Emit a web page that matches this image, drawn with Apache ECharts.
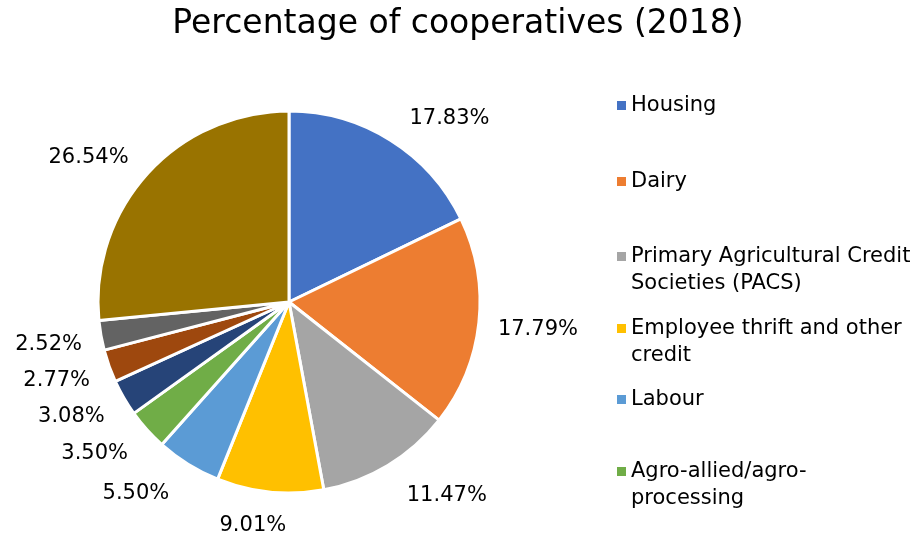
<!DOCTYPE html>
<html>
<head>
<meta charset="utf-8">
<script src="https://cdn.jsdelivr.net/npm/echarts@6/dist/echarts.min.js"></script>
<style>html,body{margin:0;padding:0;background:#fff;}#c{width:916px;height:536px;}</style>
</head>
<body>
<div id="c"></div>
<script>
const categories = ['Housing', 'Dairy', 'Primary Agricultural Credit\nSocieties (PACS)', 'Employee thrift and other\ncredit', 'Labour', 'Agro-allied/agro-\nprocessing', 'Fisheries', 'Weavers', 'Industrial', 'Others'];
const values = [17.83, 17.79, 11.47, 9.01, 5.50, 3.50, 3.08, 2.77, 2.52, 26.54];
const colors = ['#4472C4', '#ED7D31', '#A5A5A5', '#FFC000', '#5B9BD5', '#70AD47', '#264478', '#9E480E', '#636363', '#997300'];
const legendItems = categories.slice(0, 6);
const legendTops = [92, 168, 243, 315, 386, 458];

const FONT = 'DejaVu Sans';
// square icon at the top of a taller invisible box, so that it lines up with the first text line
const iconOneLine = 'rect';
const iconTwoLine = 'path://M0,0L9,0L9,9L0,9Z M0,36L0.01,36';

const chart = echarts.init(document.getElementById('c'));
chart.setOption({
  animation: false,
  color: colors,
  title: {
    text: 'Percentage of cooperatives (2018)',
    left: 'center', top: 3,
    textStyle: { fontFamily: FONT, fontSize: 33, fontWeight: 'normal', color: '#000' }
  },
  legend: legendItems.map((n, i) => {
    const two = n.indexOf('\n') >= 0;
    return {
      data: [n],
      orient: 'vertical',
      left: 617, top: legendTops[i],
      padding: 0,
      itemWidth: 9, itemHeight: two ? 36 : 9,
      icon: two ? iconTwoLine : iconOneLine,
      itemStyle: { borderWidth: 0 },
      selectedMode: false,
      textStyle: { fontFamily: FONT, fontSize: 21, color: '#000', lineHeight: 27 }
    };
  }),
  series: [{
    type: 'pie',
    center: [289, 302],
    radius: [0, 191],
    startAngle: 90,
    clockwise: true,
    data: categories.map((n, i) => ({ name: n, value: values[i] })),
    itemStyle: { borderColor: '#fff', borderWidth: 3 },
    label: {
      position: 'outside',
      formatter: p => values[p.dataIndex].toFixed(2) + '%',
      fontFamily: FONT, fontSize: 21, color: '#000'
    },
    labelLine: { show: true, length: 10, length2: 0, lineStyle: { opacity: 0 } },
    labelLayout: function (p) {
      const pts = p.labelLinePoints;
      if (!pts || pts.length < 2) return {};
      let dx = pts[1][0] - pts[0][0], dy = pts[1][1] - pts[0][1];
      const len = Math.sqrt(dx * dx + dy * dy) || 1;
      dx /= len; dy /= len;
      const w = p.labelRect.width;
      const clamp = v => Math.max(-1, Math.min(1, v));
      return {
        x: pts[0][0] + (w / 2) * clamp(dx * 4) + 19 * clamp(dx * 2),
        y: pts[0][1] + dy * 30 + 4,
        align: 'center',
        verticalAlign: 'middle'
      };
    },
    emphasis: { disabled: true }
  }]
});
</script>
</body>
</html>
